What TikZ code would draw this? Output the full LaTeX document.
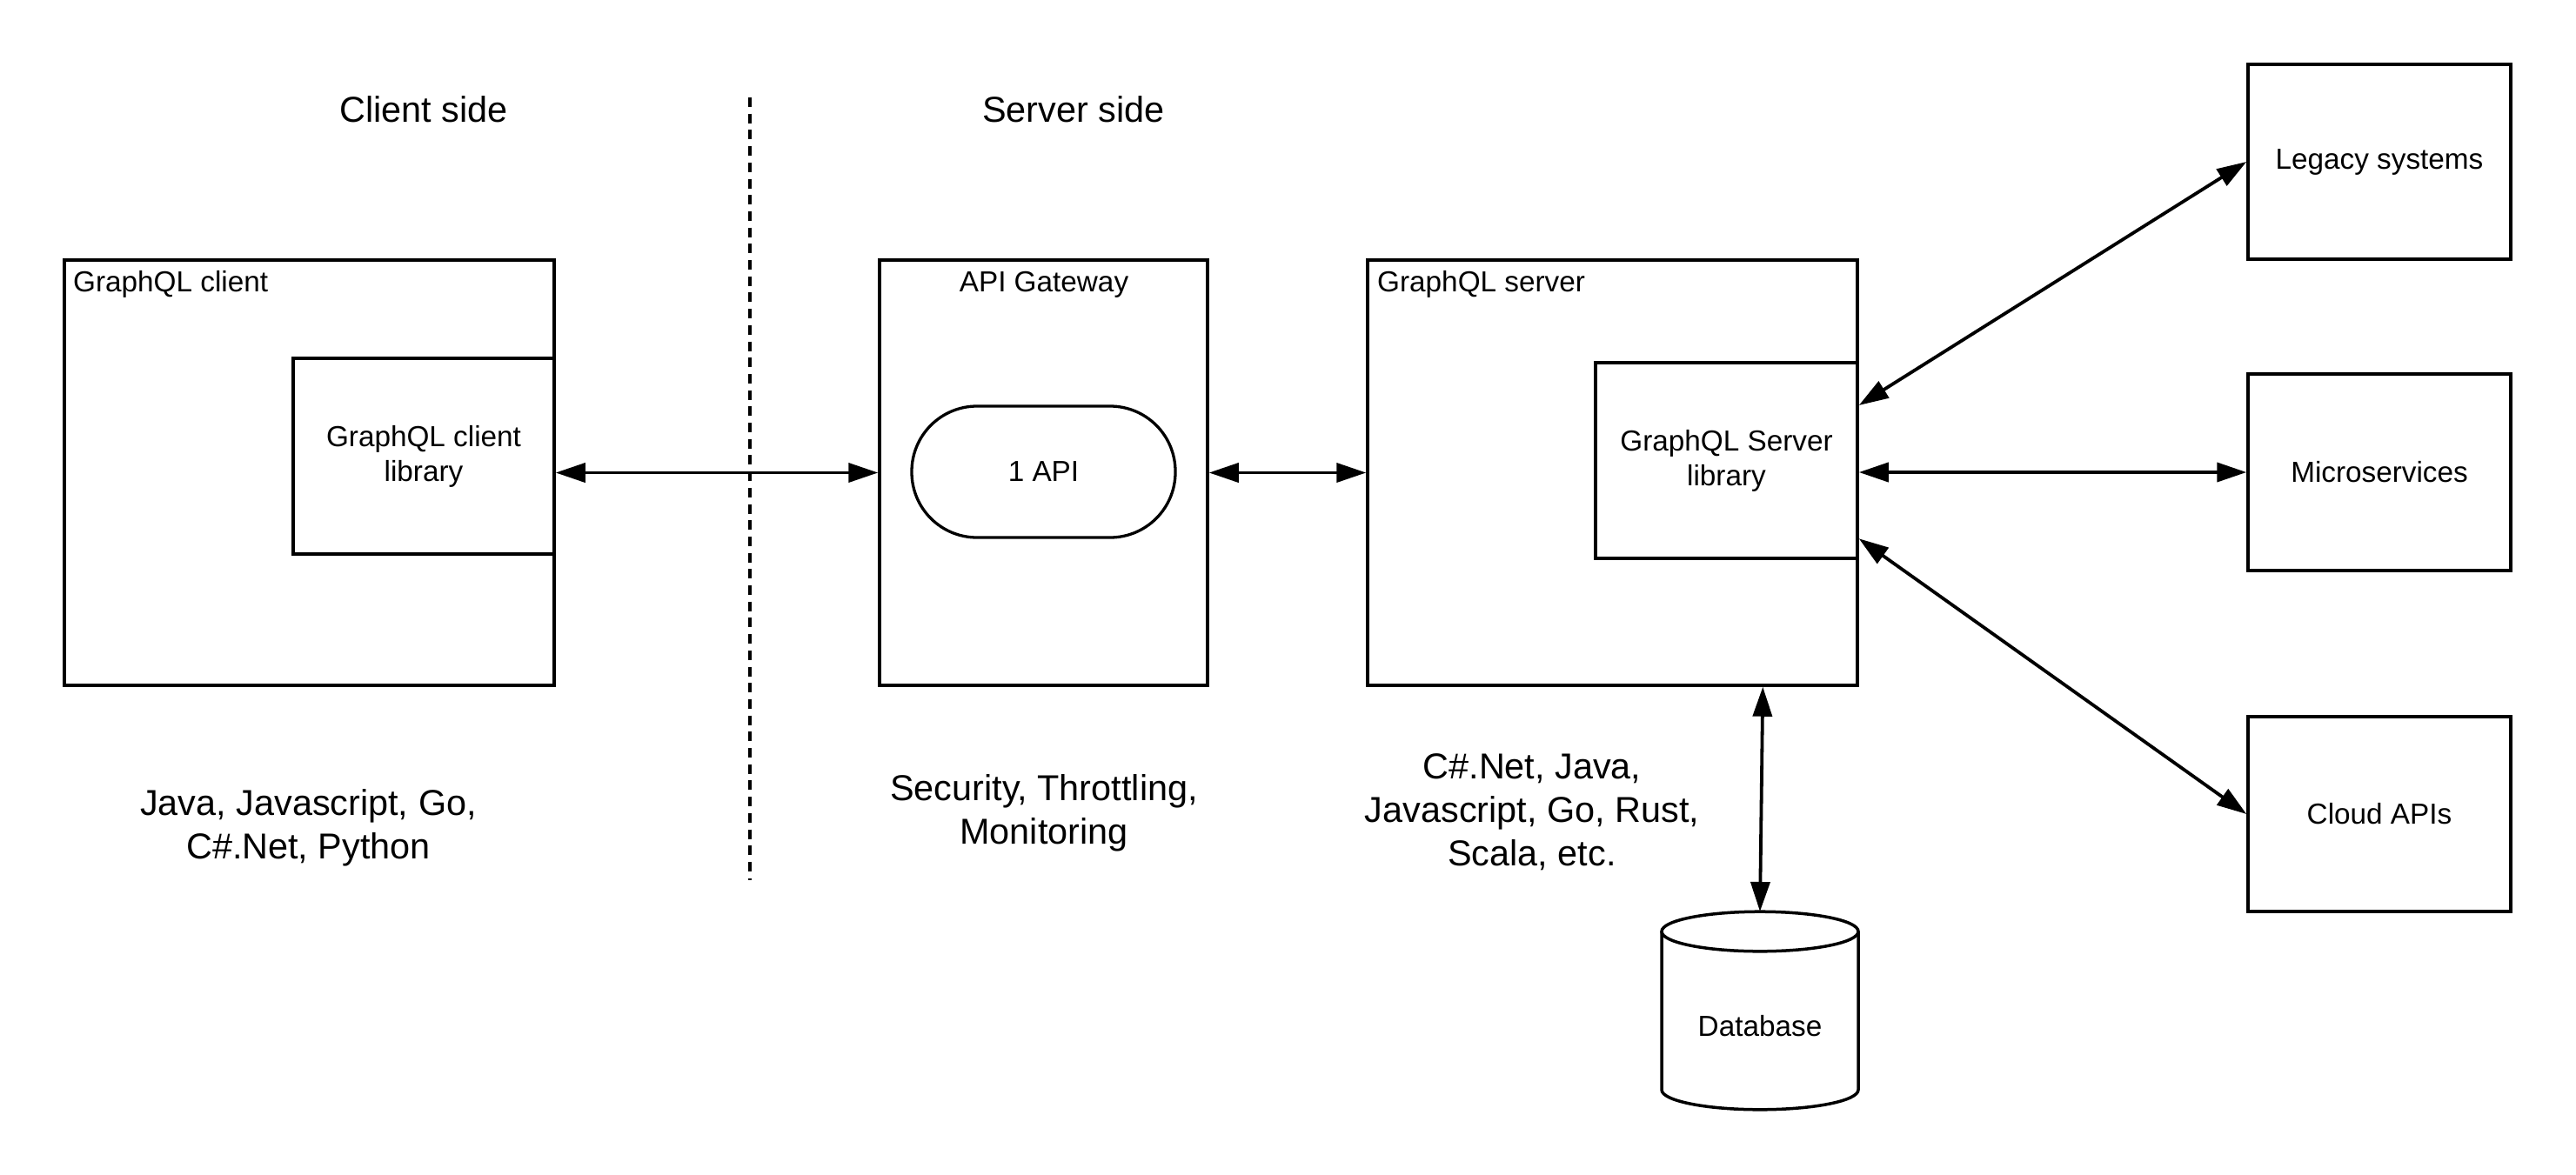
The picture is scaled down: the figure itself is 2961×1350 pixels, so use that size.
\documentclass[tikz,border=0pt]{standalone}
\usepackage{fontspec}
\setmainfont{Liberation Sans}
\usetikzlibrary{arrows.meta,calc}
\begin{document}
\begin{tikzpicture}[x=1pt,y=-1pt,
  smallfont/.style={font=\fontsize{33.3}{40}\selectfont},
  bigfont/.style={font=\fontsize{41.4}{50}\selectfont},
  box/.style={draw, line width=3.5pt, inner sep=0pt, smallfont, align=center},
  lbl/.style={inner sep=0pt, smallfont},
  biglbl/.style={inner sep=0pt, bigfont, align=center},
  arr/.style={line width=3.8pt, {Triangle[length=34pt,width=22pt]}-{Triangle[length=34pt,width=22pt]}},
  divider/.style={line width=4pt, dash pattern=on 11pt off 7.7pt}
]
\fill[white] (0,0) rectangle (2961,1350);
\useasboundingbox (0,0) rectangle (2961,1350);

% headings
\node[biglbl, anchor=base] (hclient) at (487,140) {Client side};
\node[biglbl, anchor=base] (hserver) at (1234,140) {Server side};
\coordinate (dtop) at (861.5,112);
\coordinate (dbot) at (861.5,1012);
\draw[divider] (dtop) -- (dbot);

% client
\node[box, minimum width=563pt, minimum height=489pt] (cbox) at (355.5,543.5) {};
\node[lbl, anchor=base west] (ctitle) at (84,335) {GraphQL client};
\node[box, minimum width=300pt, minimum height=225pt] (clib) at (487,524.5) {GraphQL client\\library};

% gateway
\node[box, minimum width=377pt, minimum height=489pt] (gw) at (1199.5,543.5) {};
\node[lbl, anchor=base] (gwtitle) at (1200,335) {API Gateway};
\node[box, line width=3.3pt, rounded corners=75pt, minimum width=303pt, minimum height=151pt] (api) at (1199.5,542.5) {1 API};

% server
\node[box, minimum width=563pt, minimum height=489pt] (sbox) at (1853.5,543.5) {};
\node[lbl, anchor=base west] (stitle) at (1583,335) {GraphQL server};
\node[box, minimum width=301pt, minimum height=225pt] (slib) at (1984.5,529.5) {GraphQL Server\\library};

% backends
\node[box, minimum width=302pt, minimum height=224pt] (legacy) at (2735,186) {Legacy systems};
\node[box, minimum width=302pt, minimum height=226pt] (micro) at (2735,543) {Microservices};
\node[box, minimum width=302pt, minimum height=224pt] (cloud) at (2735,936) {Cloud APIs};

% database cylinder
\draw[line width=3.5pt] (2023,1071) ellipse [x radius=113pt, y radius=22.8pt];
\draw[line width=3.5pt] (1910,1071) -- (1910,1253) arc[start angle=180, end angle=360, x radius=113pt, y radius=22.8pt] -- (2136,1071);
\node[lbl] (db) at (2023,1180) {Database};
\coordinate (dbtop) at (2023,1048);

% language notes
\node[biglbl] (clang) at (354.5,952) {Java, Javascript, Go,\\C\#.Net, Python};
\node[biglbl] (gwnote) at (1200,935) {Security, Throttling,\\Monitoring};
\node[biglbl] (slang) at (1761,934) {C\#.Net, Java,\\Javascript, Go, Rust,\\Scala, etc.};

% connectors
\draw[arr] (clib.east |- gw.west) -- (gw.west);
\draw[arr] (gw.east) -- (sbox.west);
\draw[arr] (slib.east |- micro.west) -- (micro.west);
\draw[arr] ($(slib.north east)!0.222!(slib.south east)$) -- (legacy.west);
\draw[arr] ($(slib.north east)!0.893!(slib.south east)$) -- (cloud.west);
\draw[arr] ($(sbox.south west)!0.805!(sbox.south east)$) -- (dbtop);
\end{tikzpicture}
\end{document}
